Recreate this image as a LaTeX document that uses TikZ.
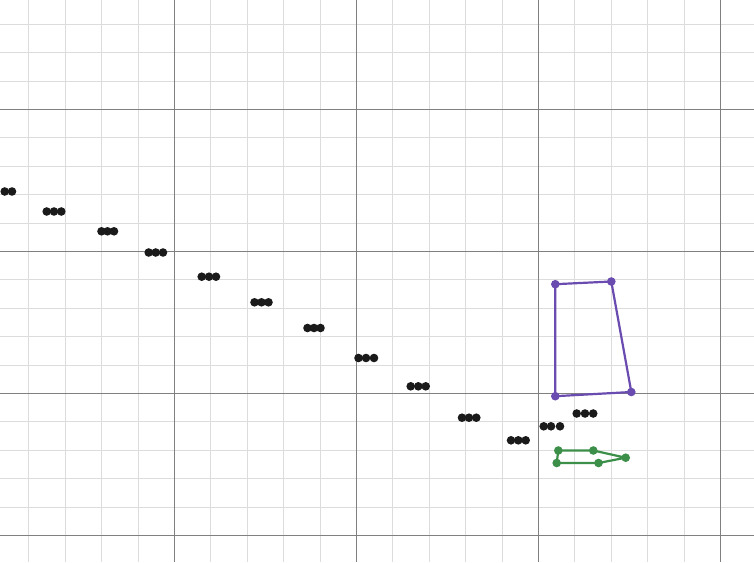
\documentclass[tikz,border=0pt]{standalone}
\definecolor{minorgrid}{HTML}{DCDCDC}
\definecolor{majorgrid}{HTML}{808080}
\definecolor{dotblack}{HTML}{1A1A1A}
\definecolor{dpurple}{HTML}{6A4CB0}
\definecolor{dgreen}{HTML}{3C8F48}
\tikzset{
  minorline/.style={draw=minorgrid, line width=0.8pt},
  majorline/.style={draw=majorgrid, line width=0.8pt},
  bdot/.style={circle, fill=dotblack, inner sep=0pt, minimum size=8.6pt},
  pdot/.style={circle, fill=dpurple, inner sep=0pt, minimum size=8.6pt},
  gdot/.style={circle, fill=dgreen, inner sep=0pt, minimum size=8.6pt},
  pedge/.style={draw=dpurple, line width=2.2pt, line join=round},
  gedge/.style={draw=dgreen, line width=2.2pt, line join=round},
}
\begin{document}
\begin{tikzpicture}[x=1pt,y=-1pt]
\useasboundingbox (0,0) rectangle (754,562);
\fill[white] (0,0) rectangle (754,562);
% minor grid
\foreach \gx in {28.7,65.1,101.5,137.9,210.7,247.1,283.5,319.9,392.7,429.1,465.5,501.9,574.7,611.1,647.5,683.9} {
  \draw[minorline] (\gx,0) -- (\gx,562);
}
\foreach \gy in {24.1,52.5,80.9,137.7,166.1,194.5,222.9,279.7,308.1,336.5,364.9,421.7,450.1,478.5,506.9} {
  \draw[minorline] (0,\gy) -- (754,\gy);
}
% major grid
\foreach \gx in {174.3,356.3,538.3,720.3} {
  \draw[majorline] (\gx,0) -- (\gx,562);
}
\foreach \gy in {109.3,251.3,393.3,535.3} {
  \draw[majorline] (0,\gy) -- (754,\gy);
}
% black dots
\foreach \n/\px/\py in {
  a1/4.7/191.5, a2/12/191.5,
  b1/46.7/211.5, b2/54/211.5, b3/61.3/211.5,
  c1/101.5/231.3, c2/107.5/231.3, c3/114/231.3,
  d1/148.7/252.5, d2/155.7/252.5, d3/163/252.5,
  e1/201.7/276.7, e2/209/276.7, e3/216/276.7,
  f1/254.5/302.3, f2/261.5/302.3, f3/268.5/302.3,
  g1/307.5/328, g2/314/328, g3/320.5/328,
  h1/358.5/358, h2/366/358, h3/374/358,
  i1/410.7/386.3, i2/418.3/386.3, i3/425.7/386.3,
  j1/462/417.7, j2/469/417.7, j3/476.3/417.7,
  k1/511/440.3, k2/518.3/440.3, k3/525.7/440.3,
  l1/543.7/426.3, l2/551/426.3, l3/560/426.3,
  m1/576.7/413.5, m2/585/413.5, m3/593.2/413.5} {
  \node[bdot] (\n) at (\px,\py) {};
}
% purple quadrilateral
\coordinate (p1) at (555.3,284.2);
\coordinate (p2) at (611.3,281.5);
\coordinate (p3) at (631.3,392);
\coordinate (p4) at (555.3,396.2);
\draw[pedge] (p1) -- (p2) -- (p3) -- (p4) -- cycle;
\foreach \c in {p1,p2,p3,p4} { \node[pdot] (\c dot) at (\c) {}; }
% green pentagon
\coordinate (q1) at (558.3,450.5);
\coordinate (q2) at (593.3,450.5);
\coordinate (q3) at (625.7,457.7);
\coordinate (q4) at (598.5,463);
\coordinate (q5) at (556.7,463);
\draw[gedge] (q1) -- (q2) -- (q3) -- (q4) -- (q5) -- cycle;
\foreach \c in {q1,q2,q3,q4,q5} { \node[gdot] (\c dot) at (\c) {}; }
\end{tikzpicture}
\end{document}
